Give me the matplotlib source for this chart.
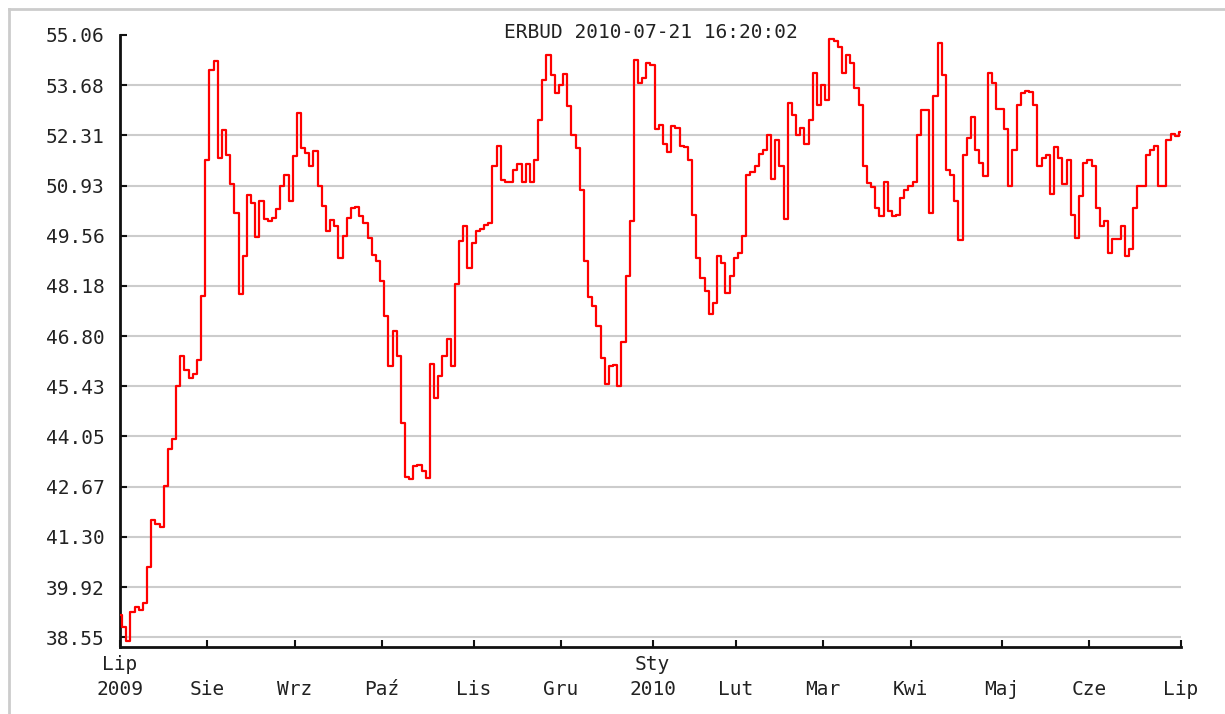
import matplotlib
matplotlib.use("Agg")
import matplotlib.pyplot as plt
from matplotlib.lines import Line2D

# ERBUD closing prices, one value per session (Jul 2009 - Jul 2010)
close = [
    39.14, 38.83, 38.44, 39.24, 39.38, 39.28, 39.47, 40.48, 41.76, 41.65,
    41.58, 42.68, 43.71, 43.98, 45.43, 46.25, 45.88, 45.66, 45.77, 46.16,
    47.91, 51.62, 54.10, 54.36, 51.69, 52.45, 51.76, 50.96, 50.18, 47.95,
    49.01, 50.66, 50.45, 49.53, 50.52, 50.01, 49.96, 50.04, 50.29, 50.93,
    51.21, 50.52, 51.74, 52.93, 51.96, 51.83, 51.48, 51.88, 50.93, 50.38,
    49.68, 50.00, 49.83, 48.95, 49.54, 50.05, 50.31, 50.34, 50.09, 49.91,
    49.49, 49.03, 48.85, 48.32, 47.36, 45.98, 46.94, 46.25, 44.42, 42.95,
    42.87, 43.24, 43.28, 43.10, 42.91, 46.03, 45.11, 45.70, 46.25, 46.71,
    45.98, 48.22, 49.41, 49.82, 48.68, 49.36, 49.68, 49.74, 49.86, 49.91,
    51.47, 52.02, 51.07, 51.02, 51.02, 51.35, 51.51, 51.02, 51.51, 51.02,
    51.62, 52.72, 53.82, 54.50, 53.96, 53.48, 53.68, 53.99, 53.12, 52.31,
    51.96, 50.80, 48.87, 47.88, 47.63, 47.08, 46.19, 45.48, 45.98, 46.02,
    45.43, 46.63, 48.46, 49.97, 54.37, 53.75, 53.89, 54.30, 54.23, 52.47,
    52.58, 52.06, 51.84, 52.57, 52.51, 52.02, 51.98, 51.62, 50.11, 48.94,
    48.40, 48.04, 47.40, 47.71, 49.01, 48.81, 47.99, 48.46, 48.95, 49.07,
    49.56, 51.21, 51.29, 51.48, 51.79, 51.90, 52.31, 51.11, 52.17, 51.48,
    50.01, 53.20, 52.86, 52.31, 52.51, 52.06, 52.72, 54.03, 53.13, 53.68,
    53.27, 54.95, 54.89, 54.72, 54.03, 54.51, 54.30, 53.62, 53.13, 51.48,
    51.00, 50.90, 50.31, 50.09, 51.02, 50.24, 50.09, 50.11, 50.59, 50.80,
    50.93, 51.02, 52.31, 53.00, 53.00, 50.19, 53.40, 54.85, 53.96, 51.35,
    51.21, 50.52, 49.45, 51.76, 52.24, 52.80, 51.90, 51.55, 51.19, 54.03,
    53.75, 53.02, 53.02, 52.47, 50.92, 51.90, 53.13, 53.48, 53.53, 53.51,
    53.13, 51.48, 51.69, 51.76, 50.70, 51.98, 51.69, 50.97, 51.62, 50.11,
    49.50, 50.64, 51.55, 51.62, 51.48, 50.31, 49.83, 49.97, 49.07, 49.46,
    49.46, 49.82, 49.01, 49.19, 50.31, 50.92, 50.92, 51.76, 51.90, 52.02,
    50.93, 50.92, 52.17, 52.35, 52.29, 52.39,
]
sessions = list(range(len(close)))

# session index where each month starts
month_pos = [0, 21, 42, 63, 85, 106, 128, 148, 169, 190, 212, 233, 255]
month_lab = ["Lip\n2009", "\nSie", "\nWrz", "\nPaź", "\nLis", "\nGru", "Sty\n2010",
             "\nLut", "\nMar", "\nKwi", "\nMaj", "\nCze", "\nLip"]

y_ticks = [38.55, 39.92, 41.30, 42.67, 44.05, 45.43, 46.80, 48.18,
           49.56, 50.93, 52.31, 53.68, 55.06]

title = "ERBUD 2010-07-21 16:20:02"

plt.rcParams['font.family'] = ['DejaVu Sans Mono']
txt = '#222222'

fig = plt.figure(figsize=(12.25, 7.14), dpi=100)
ax = fig.add_axes([120/1225, 67/714, 1061/1225, 612/714])

ax.plot(sessions, close, color='#ff0000', lw=1.6, drawstyle='steps-mid', zorder=3)

ax.set_xlim(0, 255)
ax.set_ylim(38.276, 55.06)

ax.set_yticks(y_ticks)
ax.set_yticklabels(["%.2f" % v for v in y_ticks])
ax.set_xticks(month_pos)
ax.set_xticklabels(month_lab, linespacing=1.35)

ax.tick_params(axis='both', direction='in', length=5, width=1.5, colors='#111111',
               labelcolor=txt, labelsize=14)
ax.tick_params(axis='y', pad=11)
ax.tick_params(axis='x', pad=6)

ax.yaxis.grid(True, color='#cccccc', lw=1.5)
ax.get_ygridlines()[-1].set_visible(False)
ax.set_axisbelow(True)

for s in ['top', 'right']:
    ax.spines[s].set_visible(False)
for s in ['left', 'bottom']:
    ax.spines[s].set_linewidth(2)
    ax.spines[s].set_color('#111111')

fig.text(650.5/1225, 1 - 33/714, title, ha='center', va='center',
         fontsize=14, color=txt)

# light grey frame round the picture
fig.add_artist(Line2D([9/1225, 9/1225], [0, 1 - 9/714], color='#cccccc', lw=2,
                      transform=fig.transFigure))
fig.add_artist(Line2D([9/1225, 1], [1 - 9/714, 1 - 9/714], color='#cccccc', lw=2,
                      transform=fig.transFigure))

fig.savefig("out.png", dpi=100)
